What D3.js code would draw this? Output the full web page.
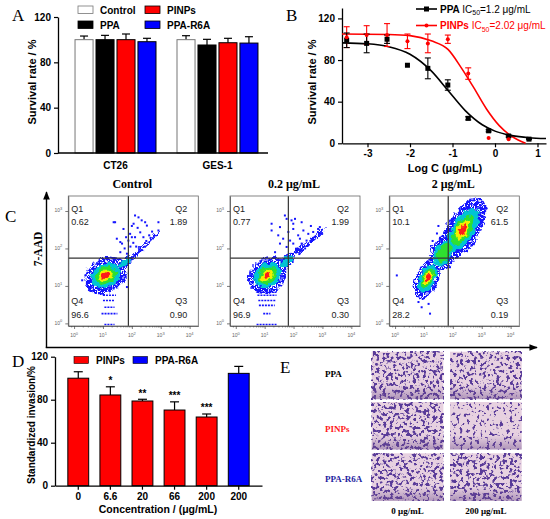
<!DOCTYPE html>
<html>
<head>
<meta charset="utf-8">
<script src="https://cdn.jsdelivr.net/npm/d3@7"></script>
<style>
  body { margin: 0; background: #fff; }
  svg { display: block; }
  text { font-family: "Liberation Sans", Arial, sans-serif; }
  .serif { font-family: "Liberation Serif", "Times New Roman", serif; }
</style>
</head>
<body>
<svg id="fig" width="550" height="519"></svg>
<script>
// ---------- Panel A: viabilidad
const cellLines = ["CT26", "GES-1"];
const groups = ["Control", "PPA", "PINPs", "PPA-R6A"];
const groupColors = ["#ffffff", "#000000", "#ff0000", "#0000ff"];
const survivalMean = [[100, 100, 100, 98.2], [100, 95.3, 97.3, 97]];
const survivalErr = [[3.2, 3.8, 5, 3], [3.5, 5, 3.9, 5.6]];
const survivalTicks = [0, 40, 80, 120];

// ---------- Panel B: dosis-respuesta
const logConc = [-3.49, -3.02, -2.54, -2.06, -1.58, -1.11, -0.63, -0.15, 0.32, 0.80];
const ppaSurvival = [99, 96, 100, 75, 72, 56, 24, 12, 7, 4];
const ppaErr = [7, 9, 4, 0, 10, 5, 1.5, 1, 1, 0.5];
const pinpsSurvival = [102, 104, 104, 98, 96, 100, 67, 5, 4];
const pinpsErr = [10, 9, 11, 7, 9, 4, 5.5, 0, 0];
// curvas ajustadas
const ppaCurveX = [-3.6, -3.0, -2.5, -2.0, -1.5, -1.1, -0.7, -0.3, 0, 0.4, 0.8, 1.2];
const ppaCurveY = [96.5, 95.6, 92.8, 85.6, 69.6, 50.5, 31.4, 17.8, 11.7, 7.4, 5.4, 4.6];
const pinpsCurveX = [-3.6, -2.5, -2.0, -1.5, -1.1, -0.8, -0.5, -0.2, 0.1, 0.4, 0.72];
const pinpsCurveY = [105, 104.6, 103.5, 98.5, 90, 73, 53.5, 33, 17, 6.5, 0];
const doseXTicks = [-3, -2, -1, 0, 1];
const doseYTicks = [0, 40, 80, 120];

// ---------- Panel C: citometría (valores en log10)
const flowTitles = ["Control", "0.2 μg/mL", "2 μg/mL"];
const quadQ1 = ["0.62", "0.77", "10.1"];
const quadQ2 = ["1.89", "1.99", "61.5"];
const quadQ3 = ["0.90", "0.30", "0.19"];
const quadQ4 = ["96.6", "96.9", "28.2"];
const gateX = [1.88, 1.82, 1.84];
const gateY = [1.74, 1.74, 1.74];
// nubes de densidad: [cx, cy, eje mayor dx, eje mayor dy, semieje menor, nivel máximo]
const flowBlobs = [
    [[1.1, 1.28, 0.62, 0.3, 0.42, 4], [1.75, 1.62, 0.22, 0.16, 0.12, 1], [2.35, 2.0, 0.55, 0.42, 0.05, 0]],
    [[1.1, 1.28, 0.55, 0.3, 0.42, 4], [1.75, 1.65, 0.25, 0.2, 0.12, 1], [2.5, 2.15, 0.6, 0.38, 0.06, 0]],
    [[1.12, 1.2, 0.3, 0.5, 0.28, 4], [1.7, 1.9, 0.35, 0.45, 0.32, 2], [2.35, 2.5, 0.6, 0.75, 0.4, 4]]
];
const flowDots = [
    [[2.11, 2.88], [2.06, 2.66], [2.23, 2.83], [2.34, 2.75], [1.37, 2.70], [1.71, 2.52], [1.94, 2.39],
     [2.52, 2.61], [2.92, 2.70], [1.48, 2.26], [1.66, 2.13], [1.88, 2.21], [2.11, 2.30], [2.29, 2.43],
     [1.60, 1.90], [1.83, 1.86], [1.42, 2.70], [2.46, 2.70], [2.92, 2.48], [2.0, 2.30], [1.60, 2.17],
     [0.28, 1.15], [0.39, 1.28], [1.83, 0.97], [1.37, 0.93], [1.95, 2.05], [2.05, 2.15], [2.15, 2.05],
     [1.8, 2.3], [2.2, 2.55], [2.0, 2.6], [1.75, 2.0], [2.4, 2.3], [2.6, 2.35], [2.5, 2.2], [2.7, 2.45]],
    [[1.70, 2.88], [1.76, 2.79], [1.93, 2.75], [2.05, 2.79], [2.28, 2.70], [1.53, 2.57], [1.24, 2.48],
     [1.47, 2.35], [1.64, 2.26], [1.82, 2.44], [1.99, 2.52], [2.16, 2.35], [2.34, 2.48], [2.51, 2.39],
     [2.68, 2.44], [2.85, 2.52], [2.91, 2.57], [1.53, 2.13], [1.76, 2.04], [1.99, 2.13], [2.11, 1.99],
     [2.28, 2.13], [2.45, 2.21], [1.36, 1.90], [1.24, 2.66], [1.99, 2.66], [2.22, 2.26], [1.88, 2.21],
     [0.55, 1.28], [0.5, 1.35], [2.6, 2.6], [2.75, 2.3], [2.4, 2.0], [2.2, 1.85]],
    [[0.06, 1.28], [0.81, 0.57], [0.92, 0.43], [1.21, 0.26], [1.16, 0.52], [2.95, 3.1], [2.9, 2.9],
     [1.5, 2.6], [1.3, 2.2], [3.0, 2.6], [2.6, 3.3], [1.9, 1.5], [3.05, 2.85], [1.45, 2.4]]
];
// franjas discretas de baja intensidad: [x1, x2, y]
const flowStripes = [
    [[1.0, 1.45, 0.75], [1.0, 1.4, 0.61], [1.05, 1.4, 0.43], [0.95, 1.5, 0.26], [1.05, 1.4, -0.03]],
    [[0.72, 1.41, 0.83], [0.75, 1.41, 0.75], [0.78, 1.38, 0.61], [0.8, 1.35, 0.48], [0.95, 1.2, 0.26], [0.72, 1.41, -0.03]],
    []
];
const flowXTicks = [0, 1, 2, 3, 4];
const flowYTicks = [0, 1, 2, 3];

// ---------- Panel D: invasión
const invLabels = ["0", "6.6", "20", "66", "200", "200"];
const invGroup = ["PINPs", "PINPs", "PINPs", "PINPs", "PINPs", "PPA-R6A"];
const invMean = [100, 84.4, 78.8, 70.4, 63.9, 104.5];
const invErr = [6, 7.6, 1.6, 7.6, 2.8, 6.5];
const invStars = ["", "*", "**", "***", "***", ""];
const invTicks = [0, 40, 80, 120];

// ---------- Panel E: micrografías
const imgRows = ["PPA", "PINPs", "PPA-R6A"];
const imgRowColors = ["#000000", "#ff1a1a", "#1f1f9f"];
const imgCols = ["0 μg/mL", "200 μg/mL"];
const cellDensity = [[1.0, 0.85], [1.0, 0.3], [0.95, 1.0]];

const svg = d3.select("#fig");
svg.append("rect").attr("width", 550).attr("height", 519).attr("fill", "#fff");
const defs = svg.append("defs");

function panelLetter(x, y, t) {
    svg.append("text").attr("class", "serif").attr("x", x).attr("y", y)
        .attr("font-size", 17).text(t);
}

function styleAxis(g) {
    g.select(".domain").attr("stroke", "#000").attr("stroke-width", 1.3);
    g.selectAll(".tick line").attr("stroke", "#000").attr("stroke-width", 1.2);
    g.selectAll(".tick text").attr("font-size", 10).attr("font-weight", "bold")
        .attr("font-family", "Liberation Sans, Arial, sans-serif").attr("fill", "#000");
}

function yTitle(x, y, t, size) {
    svg.append("text").attr("transform", `translate(${x},${y}) rotate(-90)`)
        .attr("text-anchor", "middle").attr("font-size", size).attr("font-weight", "bold").text(t);
}

// =============== Panel A
panelLetter(12, 21, "A");
const yA = d3.scaleLinear().domain([0, 120]).range([153, 17]);
const x0A = d3.scaleBand().domain(cellLines).range([58, 275]).paddingInner(0.206).paddingOuter(0.167);
const x1A = d3.scaleBand().domain(groups).range([0, x0A.bandwidth()]).paddingInner(0.14);

const gA = svg.append("g");
cellLines.forEach((c, ci) => {
    groups.forEach((grp, gi) => {
        const x = x0A(c) + x1A(grp);
        const w = x1A.bandwidth();
        const v = survivalMean[ci][gi];
        const top = yA(v + survivalErr[ci][gi]);
        gA.append("line").attr("x1", x + w / 2).attr("x2", x + w / 2)
            .attr("y1", yA(v)).attr("y2", top).attr("stroke", "#000").attr("stroke-width", 1.2);
        gA.append("line").attr("x1", x + w / 2 - 4).attr("x2", x + w / 2 + 4)
            .attr("y1", top).attr("y2", top).attr("stroke", "#000").attr("stroke-width", 1.2);
        gA.append("rect").attr("x", x).attr("y", yA(v)).attr("width", w)
            .attr("height", yA(0) - yA(v)).attr("fill", groupColors[gi])
            .attr("stroke", gi === 0 ? "#777" : "#000").attr("stroke-width", 1);
    });
    svg.append("text").attr("x", x0A(c) + x0A.bandwidth() / 2).attr("y", 169)
        .attr("text-anchor", "middle").attr("font-size", 10).attr("font-weight", "bold").text(c);
});
svg.append("g").attr("transform", "translate(58,0)")
    .call(d3.axisLeft(yA).tickValues(survivalTicks).tickSize(4).tickSizeOuter(0)).call(styleAxis);
svg.append("line").attr("x1", 58).attr("x2", 268).attr("y1", yA(0)).attr("y2", yA(0))
    .attr("stroke", "#000").attr("stroke-width", 1.3);
yTitle(36, 82, "Survival rate / %", 11);

// leyenda A
groups.forEach((grp, i) => {
    const col = Math.floor(i / 2), row = i % 2;
    const lx = 78 + col * 67, ly = 6 + row * 15;
    svg.append("rect").attr("x", lx).attr("y", ly).attr("width", 15).attr("height", 7.5)
        .attr("fill", groupColors[i]).attr("stroke", i === 0 ? "#777" : "#000").attr("stroke-width", 0.8);
    svg.append("text").attr("x", lx + 22).attr("y", ly + 7.5).attr("font-size", 10)
        .attr("font-weight", "bold").text(grp);
});

// =============== Panel B
panelLetter(286, 21, "B");
const xB = d3.scaleLinear().domain([-3.6, 1.2]).range([342, 546]);
const yB = d3.scaleLinear().domain([0, 130]).range([143.3, 8]);
svg.append("g").attr("transform", "translate(0,143.3)")
    .call(d3.axisBottom(xB).tickValues(doseXTicks).tickSize(4).tickSizeOuter(0)
        .tickFormat(d => d < 0 ? "-" + Math.abs(d) : d)).call(styleAxis);
svg.append("g").attr("transform", "translate(342,0)")
    .call(d3.axisLeft(yB).tickValues(doseYTicks).tickSize(4).tickSizeOuter(0)).call(styleAxis);
yTitle(316, 82, "Survival rate / %", 11);
svg.append("text").attr("x", 445).attr("y", 172).attr("text-anchor", "middle")
    .attr("font-size", 11).attr("font-weight", "bold").text("Log C (μg/mL)");

const lineB = (xs, ys) => d3.line().x((d, i) => xB(xs[i])).y(d => yB(d)).curve(d3.curveMonotoneX)(ys);
svg.append("path").attr("d", lineB(pinpsCurveX, pinpsCurveY)).attr("fill", "none")
    .attr("stroke", "#ff0000").attr("stroke-width", 1.6);
svg.append("path").attr("d", lineB(ppaCurveX, ppaCurveY)).attr("fill", "none")
    .attr("stroke", "#000").attr("stroke-width", 1.6);

function errBars(vals, errs, color) {
    vals.forEach((v, i) => {
        if (!errs[i]) return;
        const x = xB(logConc[i]);
        const g = svg.append("g").attr("stroke", color).attr("stroke-width", 1.1);
        g.append("line").attr("x1", x).attr("x2", x).attr("y1", yB(v - errs[i])).attr("y2", yB(v + errs[i]));
        [v - errs[i], v + errs[i]].forEach(e => {
            g.append("line").attr("x1", x - 3).attr("x2", x + 3).attr("y1", yB(e)).attr("y2", yB(e));
        });
    });
}
errBars(pinpsSurvival, pinpsErr, "#ff0000");
errBars(ppaSurvival, ppaErr, "#000");
svg.selectAll(".ppaPt").data(ppaSurvival).enter().append("rect")
    .attr("x", (d, i) => xB(logConc[i]) - 2.5).attr("y", d => yB(d) - 2.5)
    .attr("width", 5).attr("height", 5).attr("fill", "#000");
svg.selectAll(".pinpsPt").data(pinpsSurvival).enter().append("circle")
    .attr("cx", (d, i) => xB(logConc[i])).attr("cy", d => yB(d)).attr("r", 2).attr("fill", "#ff0000");

// leyenda B
[["PPA", "1.2", "#000"], ["PINPs", "2.02", "#ff0000"]].forEach((it, i) => {
    const ly = 9 + i * 16.5;
    svg.append("line").attr("x1", 416).attr("x2", 437).attr("y1", ly).attr("y2", ly)
        .attr("stroke", it[2]).attr("stroke-width", 1.6);
    if (i === 0) {
        svg.append("rect").attr("x", 424).attr("y", ly - 2.5).attr("width", 5).attr("height", 5).attr("fill", "#000");
    } else {
        svg.append("circle").attr("cx", 426.5).attr("cy", ly).attr("r", 2).attr("fill", it[2]);
    }
    const t = svg.append("text").attr("x", 440).attr("y", ly + 3.5).attr("font-size", 10).attr("fill", it[2]);
    t.append("tspan").attr("font-weight", "bold").text(it[0] + " ");
    t.append("tspan").text("IC");
    t.append("tspan").attr("font-size", 7).attr("dy", 2.5).text("50");
    t.append("tspan").attr("dy", -2.5).text("=" + it[1] + " μg/mL");
});

// =============== Panel C
panelLetter(5, 222, "C");
const densityColors = ["#1414ff", "#00c4d4", "#2fe02f", "#f2f000", "#ff1a1a"];
const levelScale = [1, 0.74, 0.52, 0.34, 0.19];
const flowLeft = [68.3, 230, 389.3];
const flowW = 130, flowTop = 196, flowBottom = 326;

// textura: bordes irregulares y puntos sueltos en el nivel azul
const wob = defs.append("filter").attr("id", "wobble").attr("x", "-10%").attr("y", "-10%")
    .attr("width", "120%").attr("height", "120%").attr("color-interpolation-filters", "sRGB");
wob.append("feTurbulence").attr("type", "fractalNoise").attr("baseFrequency", 0.18).attr("numOctaves", 2)
    .attr("seed", 4).attr("result", "t");
wob.append("feDisplacementMap").attr("in", "SourceGraphic").attr("in2", "t").attr("scale", 7)
    .attr("xChannelSelector", "R").attr("yChannelSelector", "G");
const spk = defs.append("filter").attr("id", "speckle").attr("x", "-10%").attr("y", "-10%")
    .attr("width", "120%").attr("height", "120%").attr("color-interpolation-filters", "sRGB");
spk.append("feTurbulence").attr("type", "fractalNoise").attr("baseFrequency", 0.9).attr("numOctaves", 1)
    .attr("seed", 9).attr("result", "n");
spk.append("feColorMatrix").attr("in", "n").attr("type", "matrix")
    .attr("values", "0 0 0 0 0  0 0 0 0 0  0 0 0 0 0  14 0 0 0 -5.6").attr("result", "m");
spk.append("feComposite").attr("in", "SourceGraphic").attr("in2", "m").attr("operator", "in");

// flechas grandes
defs.append("marker").attr("id", "arrow").attr("viewBox", "0 0 10 10").attr("refX", 9).attr("refY", 5)
    .attr("markerWidth", 6).attr("markerHeight", 6).attr("orient", "auto")
    .append("path").attr("d", "M0,1 L10,5 L0,9 Z").attr("fill", "#000");
svg.append("line").attr("x1", 46.5).attr("x2", 46.5).attr("y1", 348).attr("y2", 192)
    .attr("stroke", "#000").attr("stroke-width", 1.4).attr("marker-end", "url(#arrow)");
svg.append("line").attr("x1", 45.8).attr("x2", 537).attr("y1", 347.5).attr("y2", 347.5)
    .attr("stroke", "#000").attr("stroke-width", 1.4).attr("marker-end", "url(#arrow)");
svg.append("text").attr("class", "serif").attr("transform", "translate(42,249) rotate(-90)")
    .attr("text-anchor", "middle").attr("font-size", 11.5).attr("font-weight", "bold").text("7-AAD");

flowTitles.forEach((title, p) => {
    const left = flowLeft[p];
    const sx = d3.scaleLinear().domain([-0.2, 4.3]).range([left, left + flowW]);
    const sy = d3.scaleLinear().domain([-0.07, 3.4]).range([flowBottom, flowTop]);
    const clipId = "clip" + p;
    defs.append("clipPath").attr("id", clipId).append("rect")
        .attr("x", left).attr("y", flowTop).attr("width", flowW).attr("height", flowBottom - flowTop);

    svg.append("text").attr("class", "serif").attr("x", left + flowW / 2 - 1).attr("y", 188)
        .attr("text-anchor", "middle").attr("font-size", 12).attr("font-weight", "bold").text(title);

    const g = svg.append("g").attr("clip-path", `url(#${clipId})`);
    const gd = g.append("g").attr("filter", "url(#wobble)");
    // niveles de densidad, de fuera hacia dentro
    levelScale.forEach((k, lvl) => {
        const gl = gd.append("g");
        if (lvl === 0) gl.attr("filter", "url(#speckle)");
        flowBlobs[p].forEach(b => {
            if (lvl > b[5]) return;
            const px = sx(b[0]), py = sy(b[1]);
            const vx = sx(b[0] + b[2]) - px, vy = sy(b[1] + b[3]) - py;
            const ang = Math.atan2(vy, vx) * 180 / Math.PI;
            const kk = lvl === 0 ? 1.08 : k;
            gl.append("ellipse").attr("cx", px).attr("cy", py)
                .attr("rx", Math.hypot(vx, vy) * kk).attr("ry", (sy(0) - sy(b[4])) * kk)
                .attr("transform", `rotate(${ang},${px},${py})`)
                .attr("fill", densityColors[lvl]);
        });
    });
    g.selectAll(".dot").data(flowDots[p]).enter().append("rect")
        .attr("x", d => sx(d[0]) - 1).attr("y", d => sy(d[1]) - 1)
        .attr("width", 2).attr("height", 2).attr("fill", "#1414ff");
    g.selectAll(".stripe").data(flowStripes[p]).enter().append("line")
        .attr("x1", d => sx(d[0])).attr("x2", d => sx(d[1]))
        .attr("y1", d => sy(d[2])).attr("y2", d => sy(d[2]))
        .attr("stroke", "#1414ff").attr("stroke-width", 1.6).attr("stroke-dasharray", "2,1");

    // cuadrantes
    svg.append("line").attr("x1", sx(gateX[p])).attr("x2", sx(gateX[p])).attr("y1", flowTop).attr("y2", flowBottom)
        .attr("stroke", "#333").attr("stroke-width", 1.2);
    svg.append("line").attr("x1", left).attr("x2", left + flowW).attr("y1", sy(gateY[p])).attr("y2", sy(gateY[p]))
        .attr("stroke", "#333").attr("stroke-width", 1.2);
    svg.append("rect").attr("x", left).attr("y", flowTop).attr("width", flowW).attr("height", flowBottom - flowTop)
        .attr("fill", "none").attr("stroke", "#666").attr("stroke-width", 0.8);

    const qText = (x, y, t, anchor) => svg.append("text").attr("x", x).attr("y", y)
        .attr("text-anchor", anchor).attr("font-size", 9).attr("fill", "#222").text(t);
    qText(left + 3, flowTop + 15.5, "Q1", "start");
    qText(left + 3, flowTop + 29, quadQ1[p], "start");
    qText(left + flowW - 11, flowTop + 15.5, "Q2", "end");
    qText(left + flowW - 11, flowTop + 29, quadQ2[p], "end");
    qText(left + 3, flowBottom - 22, "Q4", "start");
    qText(left + 3, flowBottom - 8, quadQ4[p], "start");
    qText(left + flowW - 11, flowBottom - 22, "Q3", "end");
    qText(left + flowW - 11, flowBottom - 8, quadQ3[p], "end");

    // ejes logarítmicos
    const minorX = [];
    flowXTicks.forEach(d => d3.range(2, 10).forEach(m => { const v = d + Math.log10(m); if (v < 4.3) minorX.push(v); }));
    minorX.push(-0.1);
    svg.append("g").attr("transform", `translate(0,${flowBottom})`)
        .call(d3.axisBottom(sx).tickValues(flowXTicks).tickSize(3).tickFormat("").tickSizeOuter(0))
        .call(g2 => { g2.selectAll("line,path").attr("stroke", "#444").attr("stroke-width", 0.7); });
    svg.append("g").attr("transform", `translate(0,${flowBottom})`)
        .call(d3.axisBottom(sx).tickValues(minorX).tickSize(1.6).tickFormat("").tickSizeOuter(0))
        .call(g2 => { g2.select(".domain").remove(); g2.selectAll("line").attr("stroke", "#444").attr("stroke-width", 0.5); });
    svg.append("g").attr("transform", `translate(${left},0)`)
        .call(d3.axisLeft(sy).tickValues(flowYTicks).tickSize(3).tickFormat("").tickSizeOuter(0))
        .call(g2 => { g2.selectAll("line,path").attr("stroke", "#444").attr("stroke-width", 0.7); });
    flowXTicks.forEach(d => {
        const t = svg.append("text").attr("x", sx(d)).attr("y", flowBottom + 11).attr("text-anchor", "middle")
            .attr("font-size", 5).attr("fill", "#666");
        t.append("tspan").text("10");
        t.append("tspan").attr("dy", -2.5).attr("font-size", 4).text(d);
    });
    flowYTicks.forEach(d => {
        const t = svg.append("text").attr("x", left - 6).attr("y", sy(d) + 1.5).attr("text-anchor", "end")
            .attr("font-size", 5).attr("fill", "#666");
        t.append("tspan").text("10");
        t.append("tspan").attr("dy", -2.5).attr("font-size", 4).text(d);
    });
});

// =============== Panel D
panelLetter(12, 367, "D");
const yD = d3.scaleLinear().domain([0, 120]).range([485.7, 356.7]);
const xD = d3.scaleBand().domain(d3.range(invMean.length)).range([55, 262]).paddingInner(0.35).paddingOuter(0.4);
const invColor = { "PINPs": "#ff0000", "PPA-R6A": "#0000ff" };
invMean.forEach((v, i) => {
    const x = xD(i), w = xD.bandwidth();
    const top = yD(v + invErr[i]);
    svg.append("line").attr("x1", x + w / 2).attr("x2", x + w / 2).attr("y1", yD(v)).attr("y2", top)
        .attr("stroke", "#000").attr("stroke-width", 1.2);
    svg.append("line").attr("x1", x + w / 2 - 4.5).attr("x2", x + w / 2 + 4.5).attr("y1", top).attr("y2", top)
        .attr("stroke", "#000").attr("stroke-width", 1.2);
    svg.append("rect").attr("x", x).attr("y", yD(v)).attr("width", w).attr("height", yD(0) - yD(v))
        .attr("fill", invColor[invGroup[i]]).attr("stroke", "#000").attr("stroke-width", 1);
    if (invStars[i]) {
        svg.append("text").attr("x", x + w / 2).attr("y", top - 2.5).attr("text-anchor", "middle")
            .attr("font-size", 10).attr("font-weight", "bold").text(invStars[i]);
    }
});
svg.append("g").attr("transform", "translate(55,0)")
    .call(d3.axisLeft(yD).tickValues(invTicks).tickSize(4).tickSizeOuter(0)).call(styleAxis);
svg.append("g").attr("transform", `translate(0,${yD(0)})`)
    .call(d3.axisBottom(xD).tickSize(4).tickSizeOuter(0).tickFormat(i => invLabels[i])).call(styleAxis);
yTitle(35, 425, "Standardized invasion/%", 10);
svg.append("text").attr("x", 158).attr("y", 513).attr("text-anchor", "middle")
    .attr("font-size", 10.5).attr("font-weight", "bold").text("Concentration / (μg/mL)");
["PINPs", "PPA-R6A"].forEach((k, i) => {
    const lx = 74 + i * 59;
    svg.append("rect").attr("x", lx).attr("y", 356.5).attr("width", 14.5).attr("height", 7)
        .attr("fill", invColor[k]).attr("stroke", "#000").attr("stroke-width", 0.6);
    svg.append("text").attr("x", lx + 22).attr("y", 364).attr("font-size", 10)
        .attr("font-weight", "bold").text(k);
});

// =============== Panel E
panelLetter(280, 373, "E");
const imgX = [371.7, 450], imgY = [351.7, 402, 453.3], imgW = 71.7, imgH = 47.5;
const vign = defs.append("linearGradient").attr("id", "vign").attr("x1", 0).attr("y1", 0).attr("x2", 0).attr("y2", 1);
vign.append("stop").attr("offset", "0.7").attr("stop-color", "#6a4a8a").attr("stop-opacity", 0);
vign.append("stop").attr("offset", "1").attr("stop-color", "#6a4a8a").attr("stop-opacity", 0.45);

imgRows.forEach((row, r) => {
    svg.append("text").attr("class", "serif").attr("x", 325).attr("y", [377, 431.7, 481.7][r])
        .attr("font-size", 9).attr("font-weight", "bold").attr("fill", imgRowColors[r]).text(row);
    imgCols.forEach((col, c) => {
        const x = imgX[c], y = imgY[r];
        const th = 0.62 - 0.1 * cellDensity[r][c];
        const f = defs.append("filter").attr("id", `cells${r}${c}`).attr("filterUnits", "userSpaceOnUse")
            .attr("x", x).attr("y", y).attr("width", imgW).attr("height", imgH)
            .attr("color-interpolation-filters", "sRGB");
        f.append("feTurbulence").attr("type", "fractalNoise").attr("baseFrequency", 0.3)
            .attr("numOctaves", 2).attr("seed", 3 + r * 2 + c * 7);
        f.append("feColorMatrix").attr("type", "matrix")
            .attr("values", `0 0 0 0 0.35  0 0 0 0 0.23  0 0 0 0 0.6  11 0 0 0 ${-11 * th}`);
        svg.append("rect").attr("x", x).attr("y", y).attr("width", imgW).attr("height", imgH).attr("fill", "#e7d1e0");
        svg.append("rect").attr("x", x).attr("y", y).attr("width", imgW).attr("height", imgH)
            .attr("fill", "#000").attr("filter", `url(#cells${r}${c})`);
        svg.append("rect").attr("x", x).attr("y", y).attr("width", imgW).attr("height", imgH).attr("fill", "url(#vign)");
    });
});
imgCols.forEach((col, c) => {
    svg.append("text").attr("class", "serif").attr("x", imgX[c] + imgW / 2).attr("y", 514)
        .attr("text-anchor", "middle").attr("font-size", 9).attr("font-weight", "bold").text(col);
});
</script>
</body>
</html>
